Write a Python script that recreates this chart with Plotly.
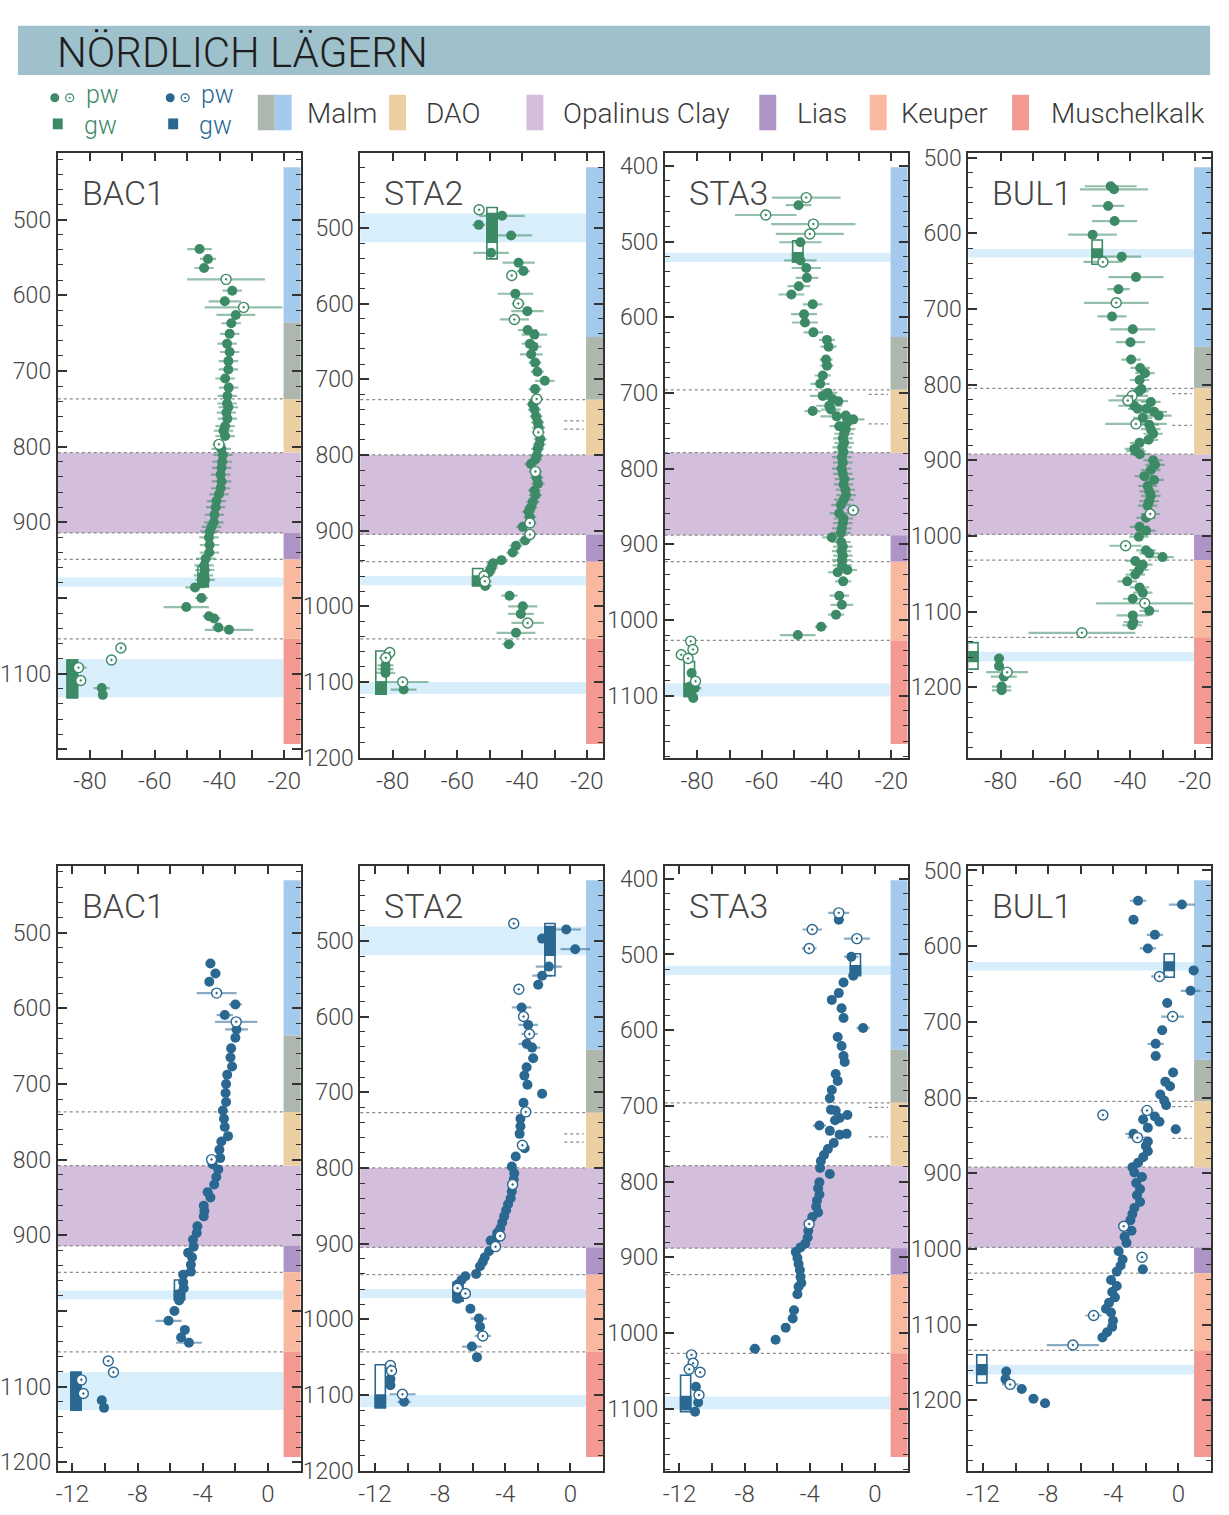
import plotly.graph_objects as go

# ---------------- DATA ----------------
WELLS = ["BAC1", "STA2", "STA3", "BUL1"]

# depth ranges (top, bottom) in m
BAC1_RANGE = (412, 1212)
STA2_RANGE = (401, 1201)
STA3_RANGE = (383, 1183)
BUL1_RANGE = (494, 1294)

# formation tops: Malm (lower), DAO, Opalinus Clay, Lias, Keuper, Muschelkalk
BAC1_TOPS = [636, 737, 808, 914, 949, 1054]
STA2_TOPS = [644, 727, 800, 905, 941, 1043]
STA3_TOPS = [626, 696, 779, 888, 923, 1027]
BUL1_TOPS = [750, 805, 892, 998, 1032, 1134]

# sub-boundaries inside DAO (short dotted marks)
BAC1_DAO_SUB = []
STA2_DAO_SUB = [755, 766]
STA3_DAO_SUB = [702, 741]
BUL1_DAO_SUB = [812, 854]

# groundwater sampling intervals (top, bottom)
BAC1_GW_BANDS = [(973, 985), (1081, 1131)]
STA2_GW_BANDS = [(481, 519), (960, 972), (1100, 1116)]
STA3_GW_BANDS = [(515, 527), (1084, 1101)]
BUL1_GW_BANDS = [(621, 632), (1153, 1166)]

# groundwater values: (value, box top, box bottom)
BAC1_H_GW = [(-45.1, 958, 985), (-85.5, 1082, 1132)]
STA2_H_GW = [(-49.3, 473, 541), (-53.7, 950, 973), (-83.6, 1059, 1116)]
STA3_H_GW = [(-48.9, 499, 527), (-82.4, 1055, 1101)]
BUL1_H_GW = [(-50.2, 609, 641), (-88.6, 1141, 1176)]
BAC1_O_GW = [(-5.43, 959, 985), (-11.78, 1081, 1131)]
STA2_O_GW = [(-1.26, 477, 546), (-6.9, 951, 976), (-11.67, 1060, 1117)]
STA3_O_GW = [(-1.2, 499, 528), (-11.62, 1056, 1104)]
BUL1_O_GW = [(-0.57, 610, 641), (-12.07, 1140, 1177)]

# porewater: (depth, value, error)
BAC1_H_PW = [(539, -46.2, 3.8), (552, -43.6, 2.5), (564, -44.8, 3), (594, -36.1, 3), (608, -38.4, 5),
             (626, -35.0, 6), (637, -36.4, 3), (651, -36.9, 3), (664, -37.7, 3), (675, -36.9, 3),
             (687, -37.3, 3), (698, -37.3, 3), (710, -38.3, 3), (722, -37.2, 3), (733, -37.6, 3),
             (743, -37.7, 3), (748, -37.3, 3), (755, -37.9, 3), (763, -37.6, 3), (773, -38.3, 3),
             (779, -38.8, 3), (786, -38.3, 3), (803, -39.5, 3), (811, -39.0, 3), (820, -39.2, 3),
             (828, -39.4, 3), (837, -39.7, 3), (846, -39.4, 3), (855, -39.7, 3), (863, -40.2, 3),
             (872, -41.0, 3), (880, -41.2, 3), (890, -41.6, 3), (900, -41.8, 3), (906, -42.5, 3),
             (912, -43.0, 3), (920, -43.3, 3), (930, -43.1, 3), (940, -43.2, 3), (948, -44.3, 3),
             (957, -44.8, 3), (963, -44.6, 3), (970, -45.0, 3), (976, -44.5, 3), (986, -47.6, 3),
             (1000, -45.6, 2), (1012, -50.3, 7), (1024, -43.3, 2), (1027, -41.7, 2), (1039, -40.4, 2),
             (1042, -37.1, 7.5), (1119, -76.4, 2.5), (1128, -76.1, 1)]
BAC1_H_PW_OPEN = [(579, -38.0, 12), (616, -32.6, 12), (797, -40.2, 2), (1066, -70.5, 1),
                  (1082, -73.4, 1), (1092, -83.6, 2.5), (1109, -82.9, 1.5)]

STA2_H_PW = [(484, -46.2, 7), (496, -53.4, 2), (510, -43.4, 6.5), (533, -49.6, 5.5), (546, -41.1, 5),
             (557, -39.6, 2), (587, -42.1, 5.5), (610, -38.4, 5), (635, -38.3, 3), (641, -36.2, 4),
             (653, -37.6, 2.5), (657, -36.5, 2.5), (667, -37.2, 3.5), (678, -36.0, 2), (690, -35.3, 2),
             (702, -33.0, 3), (713, -36.0, 2), (733, -36.7, 2), (740, -36.2, 2), (749, -35.7, 2),
             (757, -35.2, 2), (764, -34.9, 2), (779, -34.4, 2), (786, -34.7, 2), (792, -35.2, 2),
             (801, -35.5, 2), (806, -35.9, 2), (812, -37.3, 2), (830, -35.5, 2), (838, -35.1, 2),
             (847, -36.2, 2), (853, -35.9, 2), (862, -36.7, 2), (869, -37.3, 2), (875, -38.0, 2),
             (882, -37.6, 2), (895, -39.8, 2), (913, -39.1, 2), (920, -41.9, 2), (929, -42.9, 2),
             (939, -46.4, 2), (943, -49.0, 2), (949, -49.5, 2), (955, -50.2, 2), (973, -51.4, 2),
             (986, -43.9, 2.5), (1000, -39.8, 4.5), (1010, -40.4, 4), (1035, -41.9, 6), (1050, -44.1, 2),
             (1078, -82.2, 2.5), (1083, -82.2, 2.5), (1088, -82.2, 3), (1110, -76.6, 4)]
STA2_H_PW_OPEN = [(476, -53.3, 1.5), (563, -43.2, 1.5), (600, -41.2, 2), (621, -42.4, 4.5),
                  (726, -35.5, 2), (770, -35.0, 2), (822, -35.9, 2), (890, -37.6, 2), (905, -37.6, 2),
                  (960, -51.8, 2), (967, -51.5, 2), (1022, -38.3, 5), (1061, -80.9, 1),
                  (1068, -82.1, 2), (1100, -76.9, 8)]

STA3_H_PW = [(452, -48.7, 4), (501, -48.1, 6.5), (525, -48.1, 5), (535, -46.3, 4.5), (548, -46.1, 3.5),
             (559, -48.6, 3.5), (570, -50.9, 4), (583, -44.3, 3), (596, -47.0, 4), (607, -46.7, 4),
             (620, -44.1, 3), (630, -39.9, 2.5), (639, -39.4, 2.5), (656, -40.2, 2), (664, -39.9, 2),
             (677, -41.2, 2.5), (688, -42.0, 3), (700, -39.7, 3), (704, -41.2, 4), (708, -38.2, 3),
             (711, -36.4, 3), (717, -39.2, 4), (722, -38.7, 3), (724, -44.3, 2.5), (730, -34.1, 3),
             (731, -36.9, 5), (735, -31.8, 3.5), (739, -33.6, 3), (744, -36.1, 3), (748, -34.1, 3),
             (754, -34.6, 3), (760, -35.0, 3), (766, -34.6, 3), (772, -35.2, 3), (778, -34.8, 3),
             (785, -35.3, 3), (792, -35.0, 3), (800, -35.4, 3), (807, -35.0, 3), (814, -34.5, 3),
             (821, -34.8, 3), (828, -34.2, 3), (835, -34.0, 3), (841, -34.7, 3), (848, -35.6, 3),
             (859, -36.1, 3), (866, -34.8, 3), (872, -35.0, 3), (879, -35.3, 3), (885, -35.6, 3),
             (891, -38.4, 3), (897, -35.5, 3), (903, -35.0, 3), (909, -35.4, 3), (915, -35.0, 3),
             (921, -35.3, 3), (928, -35.2, 3), (934, -33.6, 3), (937, -36.6, 3), (949, -34.9, 2.5),
             (968, -36.1, 3), (980, -35.3, 3.5), (993, -37.1, 2.5), (1009, -41.7, 2), (1020, -48.9, 5.5),
             (1070, -81.7, 1), (1088, -82.2, 1), (1090, -80.7, 2), (1097, -81.8, 1), (1103, -81.2, 1)]
STA3_H_PW_OPEN = [(442, -46.3, 10.6), (465, -58.8, 9.5), (477, -44.1, 13), (490, -45.2, 10.5),
                  (855, -31.8, 2), (1028, -82.0, 0.5), (1039, -81.3, 0.5), (1046, -84.9, 0.5),
                  (1051, -82.8, 0.5), (1081, -80.5, 1)]

BUL1_H_PW = [(538, -46.0, 8), (542, -45.0, 10.5), (564, -46.8, 5), (584, -44.8, 7), (602, -51.6, 7.5),
             (631, -42.6, 6), (658, -38.2, 8.5), (674, -43.6, 3.5), (710, -45.6, 4.5), (727, -39.2, 7),
             (744, -39.9, 4.5), (767, -39.7, 3), (778, -36.9, 3), (785, -35.4, 3), (794, -37.1, 3),
             (806, -36.5, 3), (809, -37.3, 3), (823, -33.6, 3), (828, -38.7, 5), (832, -37.7, 3),
             (832, -34.9, 3), (836, -32.6, 4), (841, -31.2, 4), (844, -36.1, 3), (853, -34.1, 3),
             (859, -33.6, 3), (865, -32.9, 3), (873, -34.3, 3), (877, -37.1, 3), (885, -38.7, 3),
             (888, -38.2, 3), (892, -37.0, 3), (900, -32.9, 3), (906, -32.3, 3), (913, -33.6, 3),
             (921, -35.6, 3), (926, -32.6, 3), (934, -34.6, 3), (941, -34.1, 3), (947, -33.6, 3),
             (954, -34.1, 3), (960, -34.6, 3), (976, -35.1, 3), (988, -37.1, 3), (993, -35.1, 3),
             (1001, -37.3, 3), (1019, -35.1, 3), (1023, -34.1, 3), (1028, -30.0, 3.5), (1033, -38.4, 3),
             (1038, -36.1, 3), (1045, -37.3, 3), (1051, -38.4, 3), (1060, -40.9, 3), (1068, -37.1, 3),
             (1075, -36.1, 3), (1083, -39.2, 3), (1099, -34.1, 3), (1105, -39.2, 5), (1114, -39.0, 3),
             (1118, -39.4, 3), (1162, -80.5, 1.5), (1172, -80.5, 1.5), (1186, -79.0, 4),
             (1199, -79.7, 3), (1204, -79.7, 3)]
BUL1_H_PW_OPEN = [(638, -48.4, 6), (692, -44.3, 10), (815, -39.4, 5), (821, -40.7, 6), (852, -38.2, 9.5),
                  (971, -33.8, 3), (1013, -41.4, 5), (1089, -35.5, 15), (1128, -54.9, 16.5),
                  (1180, -78.0, 6.5)]

BAC1_O_PW = [(541, -3.53, 0.3), (554, -3.22, 0.3), (565, -3.6, 0.2), (595, -2.0, 0.4), (609, -2.65, 0.5),
             (628, -1.93, 0.7), (639, -2.0, 0.2), (653, -2.26, 0.2), (665, -2.3, 0.2), (677, -2.2, 0.3),
             (688, -2.5, 0.2), (700, -2.57, 0.2), (712, -2.6, 0.2), (724, -2.57, 0.2), (735, -2.77, 0.2),
             (746, -2.7, 0.2), (757, -2.65, 0.2), (769, -2.45, 0.2), (776, -2.86, 0.2), (787, -2.98, 0.2),
             (798, -2.93, 0.2), (806, -3.4, 0.2), (813, -3.05, 0.2), (823, -3.17, 0.2), (833, -3.3, 0.2),
             (843, -3.7, 0.2), (850, -3.53, 0.2), (861, -3.94, 0.2), (868, -3.9, 0.2), (875, -3.94, 0.2),
             (888, -4.33, 0.2), (897, -4.37, 0.2), (906, -4.6, 0.2), (915, -4.56, 0.2), (923, -4.9, 0.2),
             (929, -4.66, 0.2), (939, -4.73, 0.2), (948, -4.73, 0.2), (952, -5.2, 0.2), (962, -5.2, 0.2),
             (970, -5.17, 0.2), (978, -5.45, 0.2), (986, -5.45, 0.2), (1000, -5.74, 0.2),
             (1013, -6.1, 0.8), (1025, -5.1, 0.2), (1035, -5.33, 0.2), (1042, -4.85, 0.8),
             (1118, -10.2, 0.2), (1128, -10.06, 0.1)]
BAC1_O_PW_OPEN = [(580, -3.15, 1.23), (618, -1.95, 1.3), (800, -3.46, 0.2), (1066, -9.8, 0.1),
                  (1081, -9.48, 0.1), (1091, -11.45, 0.2), (1109, -11.33, 0.2)]

STA2_O_PW = [(485, -0.26, 0.9), (497, -1.74, 0.3), (511, 0.29, 0.9), (534, -1.33, 0.8), (546, -1.74, 0.6),
             (558, -1.98, 0.3), (588, -3.0, 0.6), (611, -2.6, 0.6), (636, -2.69, 0.5), (641, -2.36, 0.5),
             (655, -2.29, 0.3), (667, -2.69, 0.2), (678, -2.83, 0.2), (690, -2.64, 0.2), (702, -1.74, 0.3),
             (714, -2.88, 0.2), (735, -3.07, 0.2), (745, -3.07, 0.2), (755, -3.12, 0.2), (774, -2.81, 0.2),
             (785, -3.36, 0.2), (798, -3.6, 0.2), (807, -3.45, 0.2), (815, -3.48, 0.2), (831, -3.6, 0.2),
             (840, -3.67, 0.2), (848, -3.83, 0.2), (856, -3.95, 0.2), (864, -4.07, 0.2), (872, -4.19, 0.2),
             (880, -4.31, 0.2), (886, -4.5, 0.2), (894, -4.6, 0.2), (896, -4.9, 0.2), (910, -5.0, 0.2),
             (918, -5.26, 0.2), (924, -5.38, 0.2), (930, -5.55, 0.2), (940, -5.79, 0.2), (943, -6.45, 0.2),
             (948, -6.69, 0.2), (954, -6.93, 0.2), (965, -6.8, 0.2), (973, -6.93, 0.2), (986, -6.14, 0.2),
             (999, -5.62, 0.5), (1010, -5.55, 0.3), (1036, -6.05, 0.6), (1050, -5.74, 0.2),
             (1079, -11.05, 0.1), (1087, -11.05, 0.1), (1109, -10.21, 0.4)]
STA2_O_PW_OPEN = [(477, -3.48, 0.1), (564, -3.17, 0.2), (600, -2.88, 0.3), (623, -2.52, 0.5),
                  (726, -2.74, 0.2), (770, -2.95, 0.2), (822, -3.55, 0.2), (890, -4.31, 0.2),
                  (904, -4.6, 0.2), (959, -6.93, 0.2), (966, -6.45, 0.2), (1022, -5.38, 0.5),
                  (1061, -11.05, 0.1), (1068, -10.98, 0.1), (1099, -10.31, 0.8)]

STA3_O_PW = [(454, -2.22, 0.3), (503, -1.45, 0.45), (528, -1.33, 0.3), (537, -1.93, 0.2), (551, -2.22, 0.2),
             (560, -2.65, 0.2), (571, -2.05, 0.2), (584, -1.93, 0.2), (597, -0.73, 0.4), (609, -2.29, 0.2),
             (621, -2.05, 0.2), (634, -1.93, 0.2), (642, -1.86, 0.2), (658, -2.41, 0.2), (667, -2.29, 0.2),
             (679, -2.65, 0.2), (690, -2.77, 0.2), (705, -2.7, 0.2), (706, -2.41, 0.2), (712, -1.69, 0.2),
             (716, -2.17, 0.2), (719, -2.45, 0.2), (726, -3.41, 0.4), (733, -2.77, 0.2), (737, -1.74, 0.2),
             (738, -2.17, 0.2), (749, -2.53, 0.2), (757, -2.89, 0.2), (765, -3.13, 0.2), (773, -3.32, 0.2),
             (782, -3.37, 0.2), (790, -2.77, 0.2), (801, -3.41, 0.2), (809, -3.49, 0.2), (817, -3.41, 0.2),
             (825, -3.56, 0.2), (833, -3.61, 0.2), (841, -3.49, 0.2), (847, -3.85, 0.2), (865, -4.09, 0.2),
             (874, -4.13, 0.2), (882, -4.28, 0.2), (887, -4.57, 0.2), (893, -4.86, 0.2), (901, -4.76, 0.2),
             (909, -4.69, 0.2), (917, -4.61, 0.2), (926, -4.57, 0.2), (934, -4.52, 0.2), (939, -4.69, 0.2),
             (949, -4.76, 0.2), (970, -4.97, 0.3), (981, -5.05, 0.2), (993, -5.48, 0.2), (1009, -6.1, 0.2),
             (1021, -7.37, 0.35), (1071, -10.99, 0.1), (1092, -10.85, 0.1), (1104, -11.04, 0.1)]
STA3_O_PW_OPEN = [(445, -2.22, 0.65), (467, -3.85, 0.6), (479, -1.11, 0.8), (492, -4.04, 0.45),
                  (856, -4.04, 0.2), (1029, -11.26, 0.1), (1040, -11.16, 0.1), (1048, -11.4, 0.1),
                  (1052, -10.73, 0.1), (1082, -10.8, 0.1)]

BUL1_O_PW = [(540, -2.48, 0.5), (545, 0.21, 0.8), (565, -2.76, 0.3), (585, -1.45, 0.5), (603, -1.88, 0.5),
             (632, 0.93, 0.3), (659, 0.74, 0.6), (675, -0.69, 0.3), (711, -1.0, 0.3), (729, -1.4, 0.5),
             (745, -1.4, 0.3), (767, -0.33, 0.2), (779, -0.81, 0.2), (785, -0.52, 0.2), (796, -1.12, 0.2),
             (804, -0.88, 0.2), (810, -0.76, 0.2), (825, -1.45, 0.2), (829, -2.17, 0.2), (832, -1.17, 0.3),
             (840, -1.88, 0.2), (842, -0.17, 0.3), (848, -2.76, 0.5), (858, -1.88, 0.2), (864, -2.0, 0.2),
             (871, -1.88, 0.2), (879, -2.17, 0.2), (886, -2.48, 0.2), (892, -2.83, 0.2), (899, -2.71, 0.2),
             (905, -2.24, 0.2), (913, -2.6, 0.2), (921, -2.36, 0.2), (929, -2.55, 0.2), (938, -2.36, 0.2),
             (946, -2.71, 0.2), (954, -2.83, 0.2), (962, -2.95, 0.2), (976, -2.88, 0.2), (984, -3.31, 0.2),
             (992, -3.19, 0.2), (1003, -3.67, 0.2), (1014, -3.43, 0.2), (1022, -3.55, 0.2), (1027, -2.19, 0.3),
             (1030, -3.79, 0.2), (1041, -4.14, 0.2), (1049, -3.79, 0.2), (1057, -4.07, 0.2), (1064, -3.9, 0.2),
             (1071, -4.26, 0.2), (1079, -4.45, 0.2), (1084, -4.14, 0.2), (1095, -4.02, 0.2), (1103, -4.07, 0.2),
             (1110, -4.38, 0.2), (1117, -4.67, 0.2), (1162, -10.57, 0.2), (1172, -10.62, 0.2),
             (1185, -9.62, 0.3), (1198, -8.9, 0.3), (1204, -8.19, 0.3)]
BUL1_O_PW_OPEN = [(640, -1.17, 0.5), (693, -0.36, 0.7), (817, -1.93, 0.4), (823, -4.64, 0.3),
                  (853, -2.52, 0.6), (970, -3.36, 0.2), (1011, -2.24, 0.2), (1088, -5.21, 0.5),
                  (1127, -6.48, 1.6), (1179, -10.33, 0.5)]

# axis ticks
H_TICKS = [-80, -70, -60, -50, -40, -30, -20]
H_TICK_TEXT = ["-80", "", "-60", "", "-40", "", "-20"]
O_TICKS = [-12, -10, -8, -6, -4, -2, 0]
O_TICK_TEXT = ["-12", "", "-8", "", "-4", "", "0"]
H_RANGE = (-90, -15)
O_RANGE = (-12.9, 2.0)

BAC1_YTICKS = [500, 600, 700, 800, 900, 1000, 1100, 1200]
BAC1_YTEXT_H = ["500", "600", "700", "800", "900", "", "1100", ""]
BAC1_YTEXT_O = ["500", "600", "700", "800", "900", "", "1100", "1200"]
STA2_YTICKS = [500, 600, 700, 800, 900, 1000, 1100, 1200]
STA3_YTICKS = [400, 500, 600, 700, 800, 900, 1000, 1100]
BUL1_YTICKS = [500, 600, 700, 800, 900, 1000, 1100, 1200]

FORMATIONS = ["Malm", "DAO", "Opalinus Clay", "Lias", "Keuper", "Muschelkalk"]

WELL_DATA = {
    "BAC1": dict(rng=BAC1_RANGE, tops=BAC1_TOPS, sub=BAC1_DAO_SUB, bands=BAC1_GW_BANDS,
                 H=(BAC1_H_PW, BAC1_H_PW_OPEN, BAC1_H_GW), O=(BAC1_O_PW, BAC1_O_PW_OPEN, BAC1_O_GW),
                 yt=BAC1_YTICKS, ytxt_H=BAC1_YTEXT_H, ytxt_O=BAC1_YTEXT_O),
    "STA2": dict(rng=STA2_RANGE, tops=STA2_TOPS, sub=STA2_DAO_SUB, bands=STA2_GW_BANDS,
                 H=(STA2_H_PW, STA2_H_PW_OPEN, STA2_H_GW), O=(STA2_O_PW, STA2_O_PW_OPEN, STA2_O_GW),
                 yt=STA2_YTICKS, ytxt_H=[str(v) for v in STA2_YTICKS], ytxt_O=[str(v) for v in STA2_YTICKS]),
    "STA3": dict(rng=STA3_RANGE, tops=STA3_TOPS, sub=STA3_DAO_SUB, bands=STA3_GW_BANDS,
                 H=(STA3_H_PW, STA3_H_PW_OPEN, STA3_H_GW), O=(STA3_O_PW, STA3_O_PW_OPEN, STA3_O_GW),
                 yt=STA3_YTICKS, ytxt_H=[str(v) for v in STA3_YTICKS], ytxt_O=[str(v) for v in STA3_YTICKS]),
    "BUL1": dict(rng=BUL1_RANGE, tops=BUL1_TOPS, sub=BUL1_DAO_SUB, bands=BUL1_GW_BANDS,
                 H=(BUL1_H_PW, BUL1_H_PW_OPEN, BUL1_H_GW), O=(BUL1_O_PW, BUL1_O_PW_OPEN, BUL1_O_GW),
                 yt=BUL1_YTICKS, ytxt_H=[str(v) for v in BUL1_YTICKS], ytxt_O=[str(v) for v in BUL1_YTICKS]),
}

# ---------------- STYLE ----------------
W, H = 1229, 1515
FONT = "Roboto, 'Noto Sans', sans-serif"
LIGHT = 300
GREEN = "#3d8a66"
GREEN_ERR = "rgba(61,138,102,0.55)"
BLUE = "#2b6891"
BLUE_ERR = "rgba(43,104,145,0.55)"
AXIS_COL = "#333333"
TEXT_COL = "#444444"
C_MALM_U = "#a3c9ec"
C_MALM_L = "#adb7ae"
C_DAO = "#ebcfa3"
C_OPA = "#d3bedc"
C_LIAS = "#ad93c6"
C_KEU = "#f8b9a0"
C_MUS = "#f29a91"
C_GWBAND = "#d8eefb"
COL_PX = [52, 356, 662, 967]
ROW_PX = [147, 870]
PW, PH = 244, 614
STRIP_X0 = 0.93

fig = go.Figure()
shapes = []
annotations = []
layout_axes = {}


def px_x(p):
    return p / W


def px_y(p):
    return 1 - p / H


for r, q in enumerate(["H", "O"]):
    col, ecol = (GREEN, GREEN_ERR) if q == "H" else (BLUE, BLUE_ERR)
    xr = H_RANGE if q == "H" else O_RANGE
    box_w = 3.2 if q == "H" else 0.62
    for c, well in enumerate(WELLS):
        d = WELL_DATA[well]
        i = r * 4 + c + 1
        xa = "x" if i == 1 else f"x{i}"
        ya = "y" if i == 1 else f"y{i}"
        xkey = "xaxis" if i == 1 else f"xaxis{i}"
        ykey = "yaxis" if i == 1 else f"yaxis{i}"
        top, bot = d["rng"]
        x0p, y0p = COL_PX[c], ROW_PX[r]

        layout_axes[xkey] = dict(
            domain=[px_x(x0p), px_x(x0p + PW)], anchor=ya, range=list(xr),
            tickmode="array", tickvals=H_TICKS if q == "H" else O_TICKS,
            ticktext=H_TICK_TEXT if q == "H" else O_TICK_TEXT,
            ticks="inside", ticklen=8, tickwidth=1.5, tickcolor=AXIS_COL,
            showline=True, linecolor=AXIS_COL, linewidth=2, mirror="allticks",
            showgrid=False, zeroline=False,
            tickfont=dict(family=FONT, size=24, color=TEXT_COL, weight=LIGHT))
        layout_axes[ykey] = dict(
            domain=[px_y(y0p + PH), px_y(y0p)], anchor=xa, range=[bot, top],
            tickmode="array", tickvals=d["yt"], ticktext=d["ytxt_" + q],
            ticks="inside", ticklen=9, tickwidth=1.5, tickcolor=AXIS_COL,
            minor=dict(dtick=20, tick0=0, ticks="inside", ticklen=5, tickwidth=1.2, tickcolor=AXIS_COL),
            showline=True, linecolor=AXIS_COL, linewidth=2, mirror="allticks",
            showgrid=False, zeroline=False,
            tickfont=dict(family=FONT, size=23, color=TEXT_COL, weight=LIGHT))

        xdom = f"{xa} domain"
        tops = d["tops"]
        s_top, s_bot = top + 19, bot - 19
        shapes.append(dict(type="rect", xref=xdom, yref=ya, x0=0, x1=1, y0=tops[2], y1=tops[3],
                           fillcolor=C_OPA, line=dict(width=0), layer="below"))
        for (b0, b1) in d["bands"]:
            shapes.append(dict(type="rect", xref=xdom, yref=ya, x0=0, x1=STRIP_X0, y0=b0, y1=b1,
                               fillcolor=C_GWBAND, line=dict(width=0), layer="below"))
        seg = [(s_top, tops[0], C_MALM_U), (tops[0], tops[1], C_MALM_L), (tops[1], tops[2], C_DAO),
               (tops[3], tops[4], C_LIAS), (tops[4], tops[5], C_KEU), (tops[5], s_bot, C_MUS)]
        for (a, b, cc) in seg:
            shapes.append(dict(type="rect", xref=xdom, yref=ya, x0=STRIP_X0, x1=1, y0=a, y1=b,
                               fillcolor=cc, line=dict(width=0), layer="below"))
        for yb in tops[1:]:
            shapes.append(dict(type="line", xref=xdom, yref=ya, x0=0, x1=STRIP_X0, y0=yb, y1=yb,
                               line=dict(color="#8a8a8a", width=1.2, dash="dot"), layer="below"))
        for yb in d["sub"]:
            shapes.append(dict(type="line", xref=xdom, yref=ya, x0=0.84, x1=0.92, y0=yb, y1=yb,
                               line=dict(color="#8a8a8a", width=1.2, dash="dot"), layer="below"))

        pw, pw_open, gw = d[q]
        for (gv, g0, g1) in gw:
            fig.add_trace(go.Bar(x=[gv], y=[g1 - g0], base=[g0], width=[box_w], xaxis=xa, yaxis=ya,
                                 marker=dict(color="rgba(255,255,255,0)", line=dict(color=col, width=1.6)),
                                 showlegend=False, hoverinfo="skip"))
            for (b0, b1) in d["bands"]:
                f0, f1 = max(g0, b0), min(g1, b1)
                if f1 > f0:
                    fig.add_trace(go.Bar(x=[gv], y=[f1 - f0], base=[f0], width=[box_w], xaxis=xa, yaxis=ya,
                                         marker=dict(color=col, line=dict(color=col, width=1.6)),
                                         showlegend=False, hoverinfo="skip"))
        fig.add_trace(go.Scatter(
            x=[p[1] for p in pw], y=[p[0] for p in pw], mode="markers", xaxis=xa, yaxis=ya,
            error_x=dict(type="data", array=[p[2] for p in pw], color=ecol, thickness=2.2, width=0),
            marker=dict(size=10, color=col, line=dict(width=0)), showlegend=False))
        fig.add_trace(go.Scatter(
            x=[p[1] for p in pw_open], y=[p[0] for p in pw_open], mode="markers", xaxis=xa, yaxis=ya,
            error_x=dict(type="data", array=[p[2] for p in pw_open], color=ecol, thickness=2.2, width=0),
            marker=dict(size=10, symbol="circle-dot", color="white", line=dict(width=1.4, color=col)),
            showlegend=False))

        annotations.append(dict(text=well, xref="paper", yref="paper", x=px_x(x0p + 22),
                                y=px_y(y0p + 41), xanchor="left", yanchor="middle", showarrow=False,
                                font=dict(family=FONT, size=34, color=TEXT_COL, weight=LIGHT)))

# ---------------- header & legend ----------------
shapes.append(dict(type="rect", xref="paper", yref="paper", x0=px_x(12), x1=px_x(1210),
                   y0=px_y(68), y1=px_y(18), fillcolor="#9fc1cb", line=dict(width=0)))
annotations.append(dict(text="NÖRDLICH LÄGERN", xref="paper", yref="paper", x=px_x(49), y=px_y(45),
                        xanchor="left", yanchor="middle", showarrow=False,
                        font=dict(family=FONT, size=42, color="#1e1e1e", weight=LIGHT)))


def circ(cx, cy, rr, fill, line_col, lw):
    shapes.append(dict(type="circle", xref="paper", yref="paper", x0=px_x(cx - rr), x1=px_x(cx + rr),
                       y0=px_y(cy + rr), y1=px_y(cy - rr), fillcolor=fill,
                       line=dict(color=line_col, width=lw)))


for (base_x, cc) in [(49, GREEN), (165, BLUE)]:
    circ(base_x, 91, 4.5, cc, cc, 0)
    circ(base_x + 15, 91, 4, "white", cc, 1.2)
    circ(base_x + 15, 91, 1, cc, cc, 0)
    shapes.append(dict(type="rect", xref="paper", yref="paper", x0=px_x(base_x - 2), x1=px_x(base_x + 8),
                       y0=px_y(123), y1=px_y(112), fillcolor=cc, line=dict(width=0)))
    annotations.append(dict(text="pw", xref="paper", yref="paper", x=px_x(base_x + 30), y=px_y(88),
                            xanchor="left", yanchor="middle", showarrow=False, borderpad=0,
                            font=dict(family=FONT, size=25, color=cc, weight=LIGHT)))
    annotations.append(dict(text="gw", xref="paper", yref="paper", x=px_x(base_x + 28), y=px_y(119),
                            xanchor="left", yanchor="middle", showarrow=False, borderpad=0,
                            font=dict(family=FONT, size=25, color=cc, weight=LIGHT)))

LEG_SWATCH_PX = [[(253, C_MALM_L), (270, C_MALM_U)], [(385, C_DAO)], [(523, C_OPA)],
                 [(757, C_LIAS)], [(868, C_KEU)], [(1011, C_MUS)]]
LEG_TEXT_PX = [300, 420, 558, 793, 897, 1048]
for name, sw, tx in zip(FORMATIONS, LEG_SWATCH_PX, LEG_TEXT_PX):
    for (sx, scol) in sw:
        shapes.append(dict(type="rect", xref="paper", yref="paper", x0=px_x(sx), x1=px_x(sx + 17),
                           y0=px_y(124), y1=px_y(88), fillcolor=scol, line=dict(width=0)))
    annotations.append(dict(text=name, xref="paper", yref="paper", x=px_x(tx), y=px_y(107),
                            xanchor="left", yanchor="middle", showarrow=False,
                            font=dict(family=FONT, size=28, color="#3a3a3a", weight=LIGHT)))

fig.update_layout(width=W, height=H, margin=dict(l=0, r=0, t=0, b=0),
                  paper_bgcolor="white", plot_bgcolor="white", barmode="overlay",
                  shapes=shapes, annotations=annotations, showlegend=False, **layout_axes)

fig.write_html("out.html", config={"displayModeBar": False},
               post_script="document.body.style.margin='0';document.body.style.overflow='hidden';"
                           "document.documentElement.style.overflow='hidden';")
